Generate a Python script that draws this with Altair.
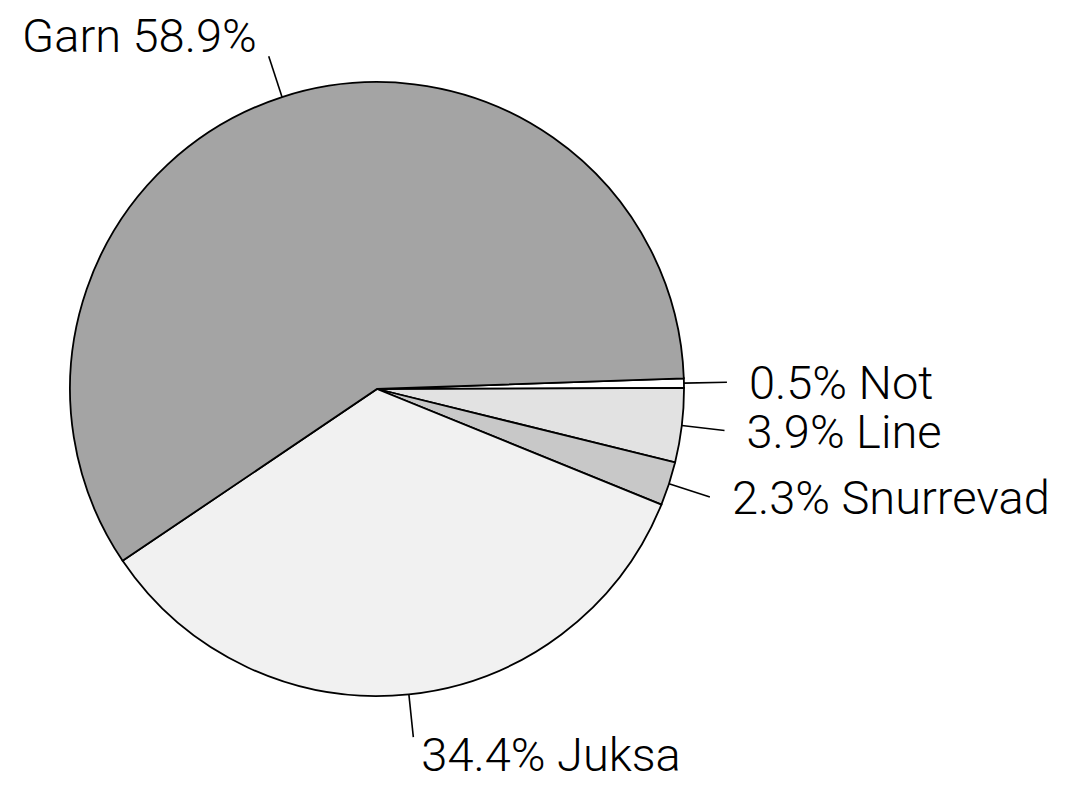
import math
import altair as alt
import pandas as pd

# ---- data ----
categories = ["Not", "Line", "Snurrevad", "Juksa", "Garn"]
shares = [0.5, 3.9, 2.3, 34.4, 58.9]
labels = ["0.5% Not", "3.9% Line", "2.3% Snurrevad", "34.4% Juksa", "Garn 58.9%"]
fills = ["#ffffff", "#e2e2e2", "#c8c8c8", "#f1f1f1", "#a4a4a4"]

# ---- layout constants (page pixels) ----
W, H = 1064, 777
OFF = 8
START_DEG = 88.0
CX, CY, R, R_LEAD = 377, 389, 307, 350
FONT = "Roboto"
FS = 47

rows = []
cum = 0.0
for i, (c, v, l) in enumerate(zip(categories, shares, labels)):
    mid = math.radians(START_DEG + 3.6 * (cum + v / 2))
    cum += v
    rows.append(dict(idx=i, cat=c, share=v, label=l,
                     x1=CX + R * math.sin(mid), y1=CY - R * math.cos(mid),
                     x2=CX + R_LEAD * math.sin(mid), y2=CY - R_LEAD * math.cos(mid)))
df = pd.DataFrame(rows)

xs = alt.Scale(domain=[OFF, OFF + W], range=[0, W])
ys = alt.Scale(domain=[OFF, OFF + H], range=[0, H])

start = math.radians(START_DEG)
pie = alt.Chart(df).mark_arc(stroke="black", strokeWidth=1.8, outerRadius=R).encode(
    theta=alt.Theta("share:Q", stack=True,
                    scale=alt.Scale(range=[start, start + 2 * math.pi])),
    order=alt.Order("idx:Q"),
    color=alt.Color("cat:N", scale=alt.Scale(domain=categories, range=fills), legend=None),
    x=alt.value(CX - OFF),
    y=alt.value(CY - OFF),
)

leaders = alt.Chart(df).mark_rule(color="black", strokeWidth=1.6).encode(
    x=alt.X("x1:Q", scale=xs, axis=None),
    y=alt.Y("y1:Q", scale=ys, axis=None),
    x2="x2:Q",
    y2="y2:Q",
)

def text_layer(cats, align, baseline, dx, dy):
    return alt.Chart(df).transform_filter(
        alt.FieldOneOfPredicate(field="cat", oneOf=cats)
    ).mark_text(align=align, baseline=baseline, dx=dx, dy=dy,
                font=FONT, fontSize=FS, fontWeight=300, color="black").encode(
        x=alt.X("x2:Q", scale=xs, axis=None),
        y=alt.Y("y2:Q", scale=ys, axis=None),
        text="label:N",
    )

right_txt = text_layer(["Not", "Line", "Snurrevad"], "left", "middle", 22, 3)
juksa_txt = text_layer(["Juksa"], "left", "alphabetic", 8, 34)
garn_txt = text_layer(["Garn"], "right", "alphabetic", -12, -4)

chart = alt.layer(pie, leaders, right_txt, juksa_txt, garn_txt).properties(
    width=W, height=H, padding=0, autosize="none", background="white"
).configure_view(stroke=None)

chart.save("out.html", embed_options={"renderer": "svg", "actions": False})
